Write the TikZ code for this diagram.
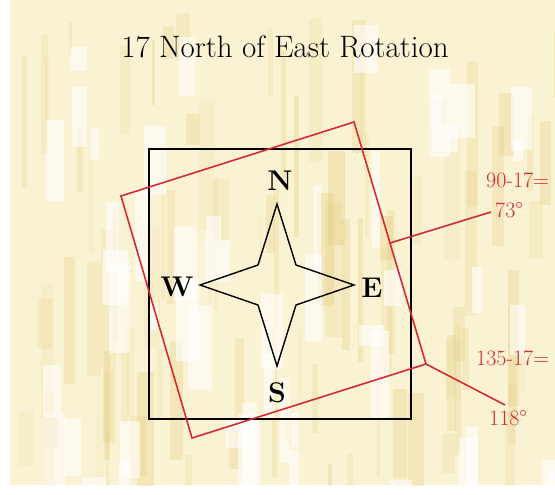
\documentclass[tikz,border=0pt]{standalone}
\usepackage{fontspec}
\usepackage{tikz}
\usetikzlibrary{calc}
\definecolor{parchment}{HTML}{FAF3D3}
\definecolor{ochre}{HTML}{E0C46E}
\definecolor{rustred}{HTML}{D42A35}

\begin{document}
\begin{tikzpicture}[x=1pt,y=-1pt,
  compasslabel/.style={font=\fontsize{28.5}{28.5}\selectfont\bfseries, inner sep=0pt},
  anglelabel/.style={font=\fontsize{22}{22}\selectfont, text=rustred, inner sep=0pt},
  redline/.style={rustred, line width=1.6pt}]
\useasboundingbox (0,0) rectangle (555,495);
% textured ground
\fill[white] (0,0) rectangle (555,495);
\fill[parchment] (10,0) rectangle (555,485);
\pgfmathsetseed{17}
\begin{scope}
  \clip (10,0) rectangle (555,485);
  \foreach \i in {1,...,90}{
    \pgfmathsetmacro{\xa}{10+545*rnd}
    \pgfmathsetmacro{\ya}{485*rnd}
    \pgfmathsetmacro{\wa}{3+14*rnd}
    \pgfmathsetmacro{\ha}{30+120*rnd}
    \pgfmathsetmacro{\oa}{0.08+0.2*rnd}
    \fill[ochre, opacity=\oa] (\xa,\ya) rectangle ++(\wa,\ha);
  }
  \foreach \i in {1,...,50}{
    \pgfmathsetmacro{\xa}{10+545*rnd}
    \pgfmathsetmacro{\ya}{485*rnd}
    \pgfmathsetmacro{\wa}{6+20*rnd}
    \pgfmathsetmacro{\ha}{20+80*rnd}
    \fill[white, opacity=0.6] (\xa,\ya) rectangle ++(\wa,\ha);
  }
\end{scope}

\node[font=\fontsize{31}{31}\selectfont, inner sep=0pt] (title) at (285,47) {17 North of East Rotation};

% plain square
\draw[black, line width=1.6pt] (149,149) rectangle (411,419);

% rotated square
\coordinate (rtop) at (354,122);
\coordinate (rright) at (426,364);
\coordinate (rbottom) at (192,438);
\coordinate (rleft) at (121,196);
\draw[redline, line join=miter] (rtop) -- (rright) -- (rbottom) -- (rleft) -- cycle;

% compass star
\coordinate (star) at (277,285);
\draw[black, line width=1.4pt, line join=miter]
  ($(star)+(0,-81)$) -- ($(star)+(19,-20)$) -- ($(star)+(77,0)$) -- ($(star)+(19,20)$)
  -- ($(star)+(0,81)$) -- ($(star)+(-19,20)$) -- ($(star)+(-77,0)$) -- ($(star)+(-19,-20)$) -- cycle;
\node[compasslabel] (north) at (280,181) {N};
\node[compasslabel] (south) at (277,393) {S};
\node[compasslabel] (east) at (372,288) {E};
\node[compasslabel] (west) at (177,287) {W};

% angle notes
\node[anglelabel, anchor=west] (first) at (486,180) {90-17=};
\node[anglelabel, anchor=west] (firstval) at (495,210) {73\textdegree};
\node[anglelabel, anchor=west] (second) at (476,358) {135-17=};
\node[anglelabel, anchor=west] (secondval) at (489,418) {118\textdegree};
\coordinate (firstend) at (491,212);
\coordinate (secondend) at (505,405);
\draw[redline] ($(rtop)!0.5!(rright)$) -- (firstend);
\draw[redline] (rright) -- (secondend);
\end{tikzpicture}
\end{document}
